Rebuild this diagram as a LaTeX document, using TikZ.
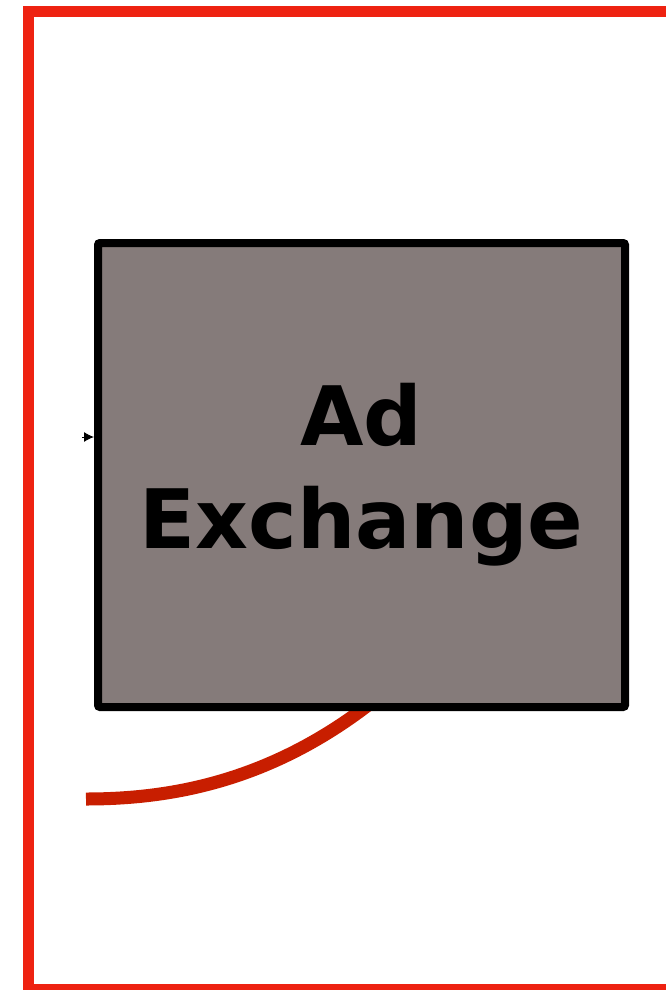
\documentclass[tikz,border=0pt]{standalone}
\usepackage{fontspec}
\setmainfont{DejaVu Sans}
\usepackage{tikz}
\usetikzlibrary{arrows.meta,positioning,calc,backgrounds}
\definecolor{framered}{HTML}{EE2211}
\definecolor{linkred}{HTML}{C81E00}
\definecolor{boxgray}{HTML}{857B7A}
\tikzset{
  % Outer group frame, cut by the page edge
  groupframe/.style={draw=framered, line width=11pt},
  % Exchange box: grey fill, heavy black border
  xbox/.style={draw=black, fill=boxgray, rectangle, line width=8pt, rounded corners=2pt,
               minimum width=527pt, minimum height=464pt, inner sep=0pt, align=center,
               font=\bfseries\fontsize{82}{103}\selectfont},
  % Connectors
  redlink/.style={draw=linkred, line width=13pt},
  flowarr/.style={-{Latex[length=10pt,width=10pt]}, line width=1pt}
}
\begin{document}
\begin{tikzpicture}[x=1pt, y=-1pt]
\useasboundingbox (0,0) rectangle (666,990);

% ============== FRAME ==============
\draw[groupframe] (28.5,11.5) rectangle (720,989.5);

% ============== EXCHANGE BOX ==============
\node[xbox] (exchange) at (361.5,475) {Ad\\Exchange};

% ============== CONNECTORS ==============
\coordinate (linktail) at (86,799);
\coordinate (linkhead) at (430,650);
\begin{scope}[on background layer]
\draw[redlink] (linktail) .. controls (180,799) and (305,778) .. (linkhead);
\end{scope}

\coordinate (intail) at (82,437);
\draw[flowarr] (intail) -- (intail -| exchange.west);

\end{tikzpicture}
\end{document}
